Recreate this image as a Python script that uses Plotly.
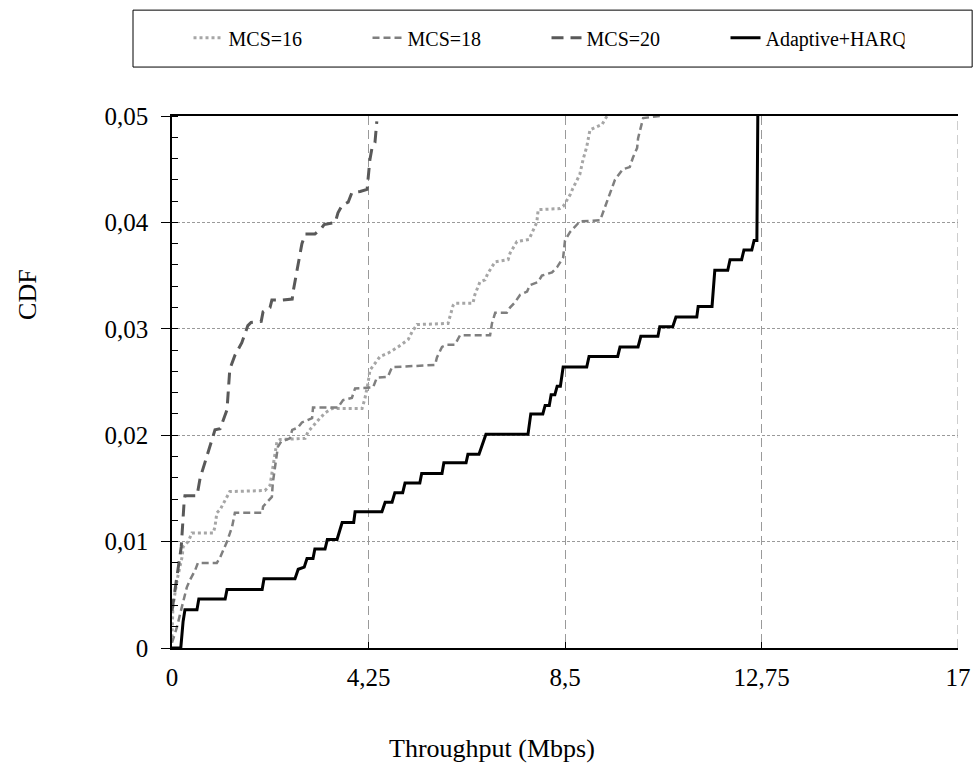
import plotly.graph_objects as go

# ---------------- data ----------------
series_names = ["MCS=16", "MCS=18", "MCS=20", "Adaptive+HARQ"]

mcs16_x = [0.00, 0.02, 0.11, 0.22, 0.24, 0.35, 0.43, 0.89, 0.93, 0.97, 1.04, 1.19, 1.25, 2.01, 2.12,
           2.23, 2.27, 2.34, 2.88, 2.94, 3.05, 3.16, 3.31, 3.46, 4.11, 4.17, 4.24, 4.28, 4.50, 4.67,
           4.89, 5.11, 5.19, 5.26, 5.30, 5.97, 6.01, 6.08, 6.12, 6.51, 6.55, 6.66, 6.77, 6.83, 6.99,
           7.27, 7.31, 7.46, 7.72, 7.79, 7.89, 7.92, 8.39, 8.46, 8.61, 8.67, 8.82, 8.89, 8.97, 9.04,
           9.30, 9.41]
mcs16_y = [0.0010, 0.0039, 0.0064, 0.0086, 0.0095, 0.0100, 0.0108, 0.0108, 0.0114, 0.0127, 0.0130,
           0.0142, 0.0147, 0.0148, 0.0153, 0.0183, 0.0194, 0.0196, 0.0197, 0.0203, 0.0208, 0.0214,
           0.0221, 0.0225, 0.0225, 0.0234, 0.0249, 0.0261, 0.0274, 0.0277, 0.0283, 0.0290, 0.0297,
           0.0302, 0.0304, 0.0305, 0.0311, 0.0322, 0.0324, 0.0324, 0.0332, 0.0344, 0.0346, 0.0352,
           0.0363, 0.0365, 0.0371, 0.0382, 0.0384, 0.0390, 0.0400, 0.0412, 0.0413, 0.0415, 0.0426,
           0.0432, 0.0445, 0.0459, 0.0471, 0.0487, 0.0492, 0.0500]

mcs18_x = [0.00, 0.11, 0.17, 0.24, 0.28, 0.32, 0.39, 0.43, 0.50, 0.56, 0.97, 1.04, 1.15, 1.19, 1.30,
           1.36, 1.95, 1.97, 2.16, 2.18, 2.29, 2.36, 2.55, 2.60, 2.72, 2.81, 3.03, 3.05, 3.59, 3.70,
           3.89, 3.96, 4.35, 4.43, 4.67, 4.76, 5.69, 5.73, 5.84, 5.95, 6.12, 6.19, 6.23, 6.88, 6.92,
           6.99, 7.24, 7.31, 7.42, 7.53, 7.68, 7.74, 7.92, 8.00, 8.22, 8.33, 8.46, 8.50, 8.61, 8.76,
           8.82, 9.26, 9.32, 9.47, 9.58, 9.75, 9.90, 9.97, 10.06, 10.08, 10.16, 10.19, 10.55]
mcs18_y = [0.0005, 0.0020, 0.0031, 0.0042, 0.0050, 0.0057, 0.0064, 0.0067, 0.0073, 0.0080, 0.0080,
           0.0085, 0.0095, 0.0100, 0.0114, 0.0127, 0.0127, 0.0133, 0.0142, 0.0155, 0.0189, 0.0194,
           0.0197, 0.0205, 0.0207, 0.0212, 0.0216, 0.0226, 0.0226, 0.0233, 0.0235, 0.0244, 0.0245,
           0.0254, 0.0255, 0.0264, 0.0266, 0.0273, 0.0283, 0.0285, 0.0285, 0.0291, 0.0294, 0.0294,
           0.0305, 0.0315, 0.0315, 0.0320, 0.0325, 0.0332, 0.0335, 0.0341, 0.0344, 0.0350, 0.0353,
           0.0358, 0.0367, 0.0383, 0.0391, 0.0398, 0.0401, 0.0402, 0.0409, 0.0428, 0.0440, 0.0450,
           0.0452, 0.0461, 0.0470, 0.0479, 0.0492, 0.0498, 0.0500]

mcs20_x = [0.00, 0.08, 0.20, 0.26, 0.28, 0.54, 0.61, 0.71, 0.82, 0.93, 1.04, 1.19, 1.25, 1.36, 1.51,
           1.64, 1.71, 1.93, 1.97, 2.12, 2.16, 2.38, 2.60, 2.62, 2.81, 2.88, 3.09, 3.24, 3.29, 3.53,
           3.59, 3.68, 3.81, 3.89, 4.07, 4.22, 4.28, 4.33, 4.39, 4.41, 4.43]
mcs20_y = [0.0035, 0.0058, 0.0095, 0.0136, 0.0143, 0.0143, 0.0160, 0.0174, 0.0189, 0.0205, 0.0206,
           0.0224, 0.0262, 0.0275, 0.0287, 0.0303, 0.0306, 0.0307, 0.0316, 0.0320, 0.0327, 0.0327,
           0.0328, 0.0335, 0.0380, 0.0389, 0.0389, 0.0395, 0.0398, 0.0400, 0.0409, 0.0416, 0.0419,
           0.0428, 0.0429, 0.0431, 0.0459, 0.0471, 0.0475, 0.0484, 0.0495]

adaptive_x = [0.00, 0.19, 0.24, 0.28, 0.54, 0.58, 1.15, 1.19, 1.95, 1.99, 2.66, 2.73, 2.86, 2.92, 3.05,
              3.09, 3.31, 3.36, 3.57, 3.68, 3.93, 3.96, 4.54, 4.61, 4.76, 4.82, 4.99, 5.04, 5.36, 5.40,
              5.84, 5.88, 6.36, 6.40, 6.64, 6.79, 7.70, 7.76, 8.02, 8.07, 8.16, 8.20, 8.28, 8.33, 8.40,
              8.46, 8.97, 9.02, 9.64, 9.69, 10.08, 10.14, 10.51, 10.55, 10.83, 10.90, 11.35, 11.38,
              11.68, 11.74, 12.02, 12.07, 12.32, 12.37, 12.54, 12.59, 12.65, 12.67]
adaptive_y = [0.0000, 0.0000, 0.0025, 0.0036, 0.0036, 0.0046, 0.0046, 0.0055, 0.0055, 0.0065, 0.0065,
              0.0074, 0.0076, 0.0084, 0.0084, 0.0093, 0.0093, 0.0102, 0.0102, 0.0118, 0.0118, 0.0128,
              0.0128, 0.0137, 0.0137, 0.0146, 0.0146, 0.0155, 0.0155, 0.0164, 0.0164, 0.0174, 0.0174,
              0.0182, 0.0182, 0.0201, 0.0201, 0.0220, 0.0220, 0.0228, 0.0228, 0.0238, 0.0238, 0.0246,
              0.0246, 0.0264, 0.0264, 0.0274, 0.0274, 0.0283, 0.0283, 0.0293, 0.0293, 0.0302, 0.0302,
              0.0311, 0.0311, 0.0321, 0.0321, 0.0355, 0.0355, 0.0365, 0.0365, 0.0374, 0.0374, 0.0383,
              0.0383, 0.0500]

x_tickvals = [0, 4.25, 8.5, 12.75, 17]
x_ticktext = ["0", "4,25", "8,5", "12,75", "17"]
y_tickvals = [0, 0.01, 0.02, 0.03, 0.04, 0.05]
y_ticktext = ["0", "0,01", "0,02", "0,03", "0,04", "0,05"]

# ---------------- figure ----------------
FONT = "Liberation Serif"
fig = go.Figure()

styles = [
    dict(color="#A6A6A6", width=3, dash="dot"),
    dict(color="#7F7F7F", width=2.5, dash="7px,4px"),
    dict(color="#595959", width=3, dash="12px,7px"),
    dict(color="#000000", width=3, dash="solid"),
]
data = [(mcs16_x, mcs16_y), (mcs18_x, mcs18_y), (mcs20_x, mcs20_y), (adaptive_x, adaptive_y)]
for name, (xs, ys), st in zip(series_names, data, styles):
    fig.add_trace(go.Scatter(x=xs, y=ys, mode="lines", name=name, line=st))

fig.update_layout(
    width=974, height=765,
    margin=dict(l=172, r=16, t=116, b=117, autoexpand=False),
    paper_bgcolor="white", plot_bgcolor="white",
    font=dict(family=FONT, size=25, color="black"),
    showlegend=True,
    legend=dict(
        orientation="h", x=0.021, xanchor="left", y=1.147, yanchor="middle",
        font=dict(family=FONT, size=20, color="black"),
        entrywidth=134, entrywidthmode="pixels",
        bgcolor="rgba(0,0,0,0)", borderwidth=0,
        itemwidth=30,
    ),
    shapes=[
        dict(type="rect", xref="paper", yref="paper",
             x0=-0.0496, x1=1.018, y0=1.092, y1=1.199,
             line=dict(color="black", width=1), fillcolor="rgba(0,0,0,0)"),
        dict(type="line", xref="x", yref="paper", x0=17, x1=17, y0=0, y1=1,
             line=dict(color="#9A9A9A", width=1, dash="9px,5px"), layer="below"),
    ],
    annotations=[
        dict(text="CDF", xref="paper", yref="paper", x=-0.183, y=0.664,
             xanchor="center", yanchor="middle",
             textangle=-90, showarrow=False, font=dict(family=FONT, size=26)),
        dict(text="Throughput (Mbps)", xref="paper", yref="paper", x=0.407, y=-0.188,
             xanchor="center", yanchor="middle",
             showarrow=False, font=dict(family=FONT, size=26)),
    ],
)

fig.update_xaxes(
    range=[0, 17], tickvals=x_tickvals, ticktext=x_ticktext,
    showline=True, linecolor="black", linewidth=1.5, mirror=True,
    ticks="inside", ticklen=6, tickcolor="black", ticklabelstandoff=6,
    showgrid=True, gridcolor="#9A9A9A", gridwidth=1, griddash="9px,5px",
    zeroline=False,
)
fig.update_yaxes(
    range=[0, 0.05], tickvals=y_tickvals, ticktext=y_ticktext,
    showline=True, linecolor="black", linewidth=1.5,
    ticks="outside", ticklen=9, tickcolor="black", ticklabelstandoff=8,
    minor=dict(dtick=0.002, ticks="inside", ticklen=6, tickcolor="black", showgrid=False),
    showgrid=True, gridcolor="#9A9A9A", gridwidth=1, griddash="3px,2px",
    zeroline=False,
)

fig.write_html("out.html",
               config={"displayModeBar": False},
               post_script="document.body.style.margin='0';document.body.style.overflow='hidden';")
